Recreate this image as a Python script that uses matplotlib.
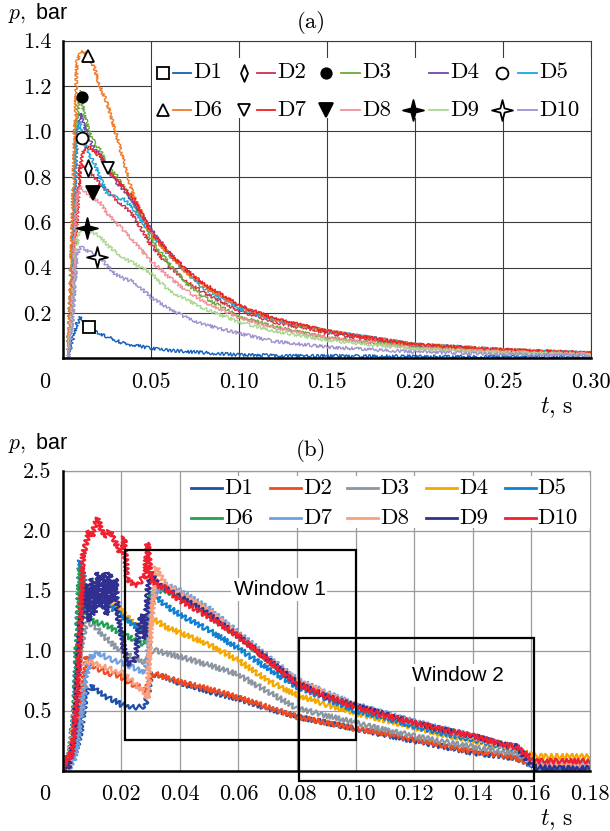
import numpy as np
import matplotlib
matplotlib.use("Agg")
import matplotlib.pyplot as plt
from matplotlib.path import Path
from matplotlib.patches import Rectangle

plt.rcParams["mathtext.fontset"] = "cm"
SERIF = "cmr10"
SANS = "Liberation Sans"

NAMES = ["D1", "D2", "D3", "D4", "D5", "D6", "D7", "D8", "D9", "D10"]

# ---- panel (a): pressure traces ----
T_A = [0, 0.003, 0.005, 0.008, 0.010, 0.012, 0.015, 0.018, 0.021, 0.025, 0.030,
       0.035, 0.040, 0.050, 0.060, 0.070, 0.080, 0.100, 0.120, 0.150, 0.200, 0.250, 0.300]
A_D1 = [0, 0, 0.06, 0.15, 0.18, 0.165, 0.14, 0.12, 0.11, 0.095, 0.08, 0.065, 0.058,
        0.045, 0.035, 0.03, 0.025, 0.015, 0.012, 0.01, 0.008, 0.006, 0.005]
A_D2 = [0, 0, 0.3, 0.7, 0.84, 0.85, 0.82, 0.8, 0.77, 0.74, 0.70, 0.67, 0.63, 0.5,
        0.41, 0.34, 0.29, 0.21, 0.16, 0.11, 0.055, 0.033, 0.02]
A_D3 = [0, 0, 0.4, 1.05, 1.18, 1.08, 1.0, 0.95, 0.92, 0.86, 0.81, 0.75, 0.69, 0.53,
        0.42, 0.33, 0.27, 0.185, 0.14, 0.09, 0.05, 0.03, 0.02]
A_D4 = [0, 0, 0.35, 0.95, 1.08, 1.03, 0.97, 0.92, 0.9, 0.84, 0.78, 0.74, 0.69, 0.57,
        0.47, 0.39, 0.32, 0.23, 0.17, 0.12, 0.06, 0.037, 0.023]
A_D5 = [0, 0, 0.4, 1.0, 1.04, 0.96, 0.9, 0.86, 0.8, 0.73, 0.71, 0.7, 0.66, 0.55,
        0.46, 0.38, 0.31, 0.22, 0.17, 0.12, 0.062, 0.038, 0.023]
A_D6 = [0, 0, 0.5, 1.3, 1.35, 1.35, 1.33, 1.28, 1.2, 1.13, 1.0, 0.86, 0.72, 0.55,
        0.46, 0.38, 0.32, 0.23, 0.17, 0.12, 0.06, 0.037, 0.023]
A_D7 = [0, 0, 0.15, 0.6, 0.85, 0.92, 0.93, 0.91, 0.89, 0.84, 0.79, 0.75, 0.71, 0.56,
        0.47, 0.39, 0.33, 0.235, 0.175, 0.12, 0.06, 0.037, 0.023]
A_D8 = [0, 0, 0.2, 0.7, 0.76, 0.74, 0.72, 0.7, 0.69, 0.64, 0.6, 0.56, 0.52, 0.43,
        0.36, 0.3, 0.25, 0.18, 0.135, 0.09, 0.045, 0.028, 0.017]
A_D9 = [0, 0, 0.15, 0.5, 0.57, 0.565, 0.56, 0.55, 0.54, 0.5, 0.47, 0.44, 0.42, 0.375,
        0.3, 0.26, 0.22, 0.16, 0.12, 0.08, 0.04, 0.025, 0.015]
A_D10 = [0, 0, 0.1, 0.45, 0.49, 0.485, 0.47, 0.46, 0.45, 0.41, 0.37, 0.35, 0.34, 0.27,
         0.22, 0.18, 0.15, 0.11, 0.075, 0.05, 0.028, 0.018, 0.011]
A_COLORS = ["#1460b8", "#d03048", "#6aaa3a", "#6a4aa8", "#1ca8dc",
            "#f07a2a", "#ee2020", "#f0909a", "#a8d890", "#a090d0"]

# marker positions on the curves (D4 has none)
MARK_T = [0.0152, 0.0143, 0.0109, None, 0.0112, 0.0146, 0.0260, 0.0172, 0.0138, 0.0194]
MARK_P = [0.136, 0.84, 1.15, None, 0.97, 1.333, 0.84, 0.728, 0.575, 0.445]

# ---- panel (b) ----
T_B = [0, 0.002, 0.004, 0.006, 0.008, 0.010, 0.012, 0.014, 0.016, 0.018, 0.020,
       0.022, 0.024, 0.026, 0.028, 0.029, 0.030, 0.032, 0.035, 0.040, 0.050, 0.060,
       0.070, 0.080, 0.090, 0.100, 0.110, 0.120, 0.130, 0.140, 0.150, 0.155, 0.160,
       0.162, 0.170, 0.180]
B_D1 = [0, 0.02, 0.12, 0.3, 0.65, 0.7, 0.66, 0.63, 0.6, 0.58, 0.55, 0.54, 0.53, 0.53,
        0.54, 0.62, 0.8, 0.8, 0.78, 0.73, 0.66, 0.6, 0.52, 0.45, 0.4, 0.35, 0.3, 0.25,
        0.2, 0.15, 0.12, 0.1, 0.05, 0.02, 0.02, 0.02]
B_D2 = [0, 0.03, 0.2, 0.5, 0.95, 0.88, 0.85, 0.83, 0.81, 0.8, 0.78, 0.75, 0.72, 0.7,
        0.66, 0.7, 0.8, 0.8, 0.78, 0.74, 0.68, 0.61, 0.53, 0.45, 0.4, 0.35, 0.31, 0.26,
        0.21, 0.16, 0.13, 0.1, 0.06, 0.05, 0.05, 0.05]
B_D3 = [0, 0.03, 0.3, 1.0, 1.25, 1.22, 1.18, 1.12, 1.08, 1.03, 1.0, 0.97, 0.94, 0.92,
        0.9, 0.92, 1.0, 1.0, 0.98, 0.95, 0.88, 0.8, 0.66, 0.52, 0.46, 0.4, 0.34, 0.29,
        0.24, 0.2, 0.16, 0.14, 0.08, 0.06, 0.06, 0.06]
B_D4 = [0, 0.04, 0.4, 1.35, 1.55, 1.5, 1.47, 1.43, 1.4, 1.37, 1.33, 1.28, 1.23, 1.2,
        1.17, 1.18, 1.25, 1.25, 1.2, 1.15, 1.05, 0.92, 0.75, 0.63, 0.55, 0.48, 0.42,
        0.36, 0.3, 0.25, 0.2, 0.18, 0.13, 0.12, 0.12, 0.12]
B_D5 = [0, 0.05, 0.5, 1.75, 1.5, 1.48, 1.45, 1.4, 1.38, 1.33, 1.3, 1.25, 1.22, 1.18,
        1.15, 1.2, 1.4, 1.45, 1.38, 1.3, 1.17, 1.02, 0.85, 0.7, 0.6, 0.5, 0.44, 0.37,
        0.31, 0.26, 0.2, 0.18, 0.05, 0.03, 0.03, 0.03]
B_D6 = [0, 0.05, 0.45, 1.7, 1.3, 1.25, 1.23, 1.22, 1.2, 1.17, 1.15, 1.12, 1.1, 1.07,
        1.05, 1.15, 1.45, 1.5, 1.5, 1.45, 1.3, 1.12, 0.92, 0.74, 0.63, 0.54, 0.47, 0.4,
        0.34, 0.29, 0.22, 0.2, 0.07, 0.06, 0.06, 0.06]
B_D7 = [0, 0.01, 0.1, 0.4, 0.78, 0.96, 0.98, 0.96, 0.93, 0.92, 0.9, 0.88, 0.86, 0.84,
        0.82, 0.9, 1.4, 1.5, 1.55, 1.5, 1.35, 1.15, 0.95, 0.76, 0.65, 0.55, 0.48, 0.41,
        0.35, 0.29, 0.22, 0.2, 0.08, 0.06, 0.05, 0.05]
B_D8 = [0, 0.03, 0.4, 0.9, 0.9, 0.9, 0.88, 0.87, 0.85, 0.83, 0.82, 0.78, 0.74, 0.7,
        0.65, 0.6, 1.2, 1.7, 1.55, 1.48, 1.33, 1.13, 0.93, 0.75, 0.64, 0.54, 0.47, 0.4,
        0.34, 0.28, 0.21, 0.19, 0.06, 0.05, 0.05, 0.05]
T_D9 = [0, 0.002, 0.004, 0.006, 0.008, 0.009, 0.010, 0.011, 0.012, 0.013, 0.014,
        0.015, 0.016, 0.017, 0.018, 0.019, 0.020, 0.021, 0.022, 0.023, 0.024, 0.025,
        0.026, 0.027, 0.028, 0.029, 0.030, 0.032, 0.035, 0.040, 0.050, 0.060, 0.070,
        0.080, 0.090, 0.100, 0.110, 0.120, 0.130, 0.140, 0.150, 0.155, 0.160, 0.162,
        0.170, 0.180]
B_D9 = [0, 0.02, 0.3, 1.2, 1.55, 1.25, 1.6, 1.3, 1.65, 1.35, 1.65, 1.3, 1.65, 1.4,
        1.6, 1.25, 1.15, 1.0, 0.92, 0.88, 0.9, 0.95, 1.2, 1.3, 1.1, 1.5, 1.65, 1.57,
        1.52, 1.45, 1.3, 1.12, 0.93, 0.73, 0.62, 0.54, 0.47, 0.4, 0.34, 0.29, 0.22,
        0.2, 0.05, 0.03, 0.02, 0.02]
T_D10 = [0, 0.002, 0.003, 0.005, 0.007, 0.009, 0.010, 0.011, 0.012, 0.014, 0.016,
         0.018, 0.019, 0.020, 0.021, 0.022, 0.024, 0.026, 0.027, 0.028, 0.029, 0.030,
         0.032, 0.035, 0.040, 0.050, 0.060, 0.070, 0.080, 0.090, 0.100, 0.110, 0.120,
         0.130, 0.140, 0.150, 0.155, 0.160, 0.162, 0.170, 0.180]
B_D10 = [0, 0.15, 0.1, 0.6, 1.8, 2.0, 1.95, 2.05, 2.1, 1.95, 2.0, 1.9, 1.85, 1.8,
         1.95, 1.6, 1.55, 1.55, 1.6, 1.6, 1.9, 1.6, 1.55, 1.52, 1.42, 1.28, 1.12, 0.92,
         0.72, 0.62, 0.53, 0.46, 0.4, 0.34, 0.29, 0.22, 0.2, 0.1, 0.08, 0.08, 0.08]
B_COLORS = ["#1f4fa8", "#f04a20", "#8c96a0", "#f5a800", "#1080d0",
            "#20a050", "#70a0e0", "#f8a080", "#303090", "#f02030"]

# window rectangles (t0, t1, p0, p1) and labels
WIN_T = [(0.0213, 0.1), (0.0805, 0.161)]
WIN_P = [(0.256, 1.84), (-0.083, 1.11)]
WIN_LABELS = ["Window 1", "Window 2"]
WIN_LABEL_T = [0.074, 0.1348]
WIN_LABEL_P = [1.51, 0.79]

W, H = 610, 831
fig = plt.figure(figsize=(W / 100, H / 100), dpi=100)


def star_path(r=0.2):
    verts = [(0, 1), (r, r), (1, 0), (r, -r), (0, -1), (-r, -r), (-1, 0), (-r, r), (0, 1)]
    codes = [Path.MOVETO] + [Path.LINETO] * 7 + [Path.CLOSEPOLY]
    return Path(verts, codes)


DIAMOND = Path([(0, 1), (0.42, 0), (0, -1), (-0.42, 0), (0, 1)],
               [Path.MOVETO, Path.LINETO, Path.LINETO, Path.LINETO, Path.CLOSEPOLY])
STAR = star_path()
# marker style per series (marker, size, facecolor)
MSTYLE = [("s", 8.5, "white"), (DIAMOND, 12, "white"), ("o", 7.5, "black"), None,
          ("o", 8.5, "white"), ("^", 8.5, "white"), ("v", 8.5, "white"),
          ("v", 9.5, "black"), (STAR, 15, "black"), (STAR, 15, "white")]


def px_axes(box, x, y):
    """pixel (x, y) in the picture -> axes fraction for axes box (x0, y0_bottom, x1, y1_top)"""
    x0, yb, x1, yt = box
    return (x - x0) / (x1 - x0), (yb - y) / (yb - yt)


def style_axes(ax, grid_color, grid_lw):
    ax.set_axisbelow(True)
    ax.grid(True, color=grid_color, lw=grid_lw)
    ax.tick_params(length=0)
    ax.tick_params(axis="y", pad=8)
    ax.tick_params(axis="x", pad=10)
    for s in ("left", "bottom"):
        ax.spines[s].set_linewidth(1.8)
        ax.spines[s].set_color("black")
        ax.spines[s].set_zorder(6)
    for s in ("top", "right"):
        ax.spines[s].set_linewidth(grid_lw)
        ax.spines[s].set_color(grid_color)
    ax.annotate("0", xy=(0, 0), xycoords="axes fraction", xytext=(-18, -14),
                textcoords="offset pixels", ha="center", va="top",
                fontfamily=SERIF, fontsize=16)


# ================= panel (a) =================
BOX_A = (62.7, 358.3, 591.0, 40.7)
ax = fig.add_axes([BOX_A[0] / W, 1 - BOX_A[1] / H, (BOX_A[2] - BOX_A[0]) / W,
                   (BOX_A[1] - BOX_A[3]) / H])
a_curves = [A_D1, A_D2, A_D3, A_D4, A_D5, A_D6, A_D7, A_D8, A_D9, A_D10]
for vals, col in zip(a_curves, A_COLORS):
    ln, = ax.plot(T_A, vals, color=col, lw=1.0, zorder=2)
    ln.set_sketch_params(scale=1.6, length=2.5, randomness=3)
for i, ms in enumerate(MSTYLE):
    if ms is None:
        continue
    ax.plot([MARK_T[i]], [MARK_P[i]], ls="none", marker=ms[0], ms=ms[1],
            mfc=ms[2], mec="black", mew=1.3, zorder=5)

ax.set_xlim(0, 0.30)
ax.set_ylim(0, 1.4)
xt = [0.05, 0.10, 0.15, 0.20, 0.25, 0.30]
yt = [0.2, 0.4, 0.6, 0.8, 1.0, 1.2, 1.4]
ax.set_xticks(xt, labels=[f"{v:.2f}" for v in xt], fontfamily=SERIF, fontsize=16)
ax.set_yticks(yt, labels=[f"{v:.1f}" for v in yt], fontfamily=SERIF, fontsize=16)
style_axes(ax, "#3c3c3c", 0.8)

# legend: marker, coloured line, name
x0, y0 = px_axes(BOX_A, 152, 118)
x1, y1 = px_axes(BOX_A, 591, 58)
ax.add_patch(Rectangle((x0, y0), x1 - x0, y1 - y0, transform=ax.transAxes,
                       facecolor="white", edgecolor="none", zorder=3))
leg_mx = [162.7, 244.3, 325.7, 413.0, 502.0]
leg_lx = [172.7, 256.7, 341.0, 429.0, 518.0]
leg_y = [72.7, 110.0]
for i, name in enumerate(NAMES):
    c, r = i % 5, i // 5
    mx, my = px_axes(BOX_A, leg_mx[c], leg_y[r])
    la, _ = px_axes(BOX_A, leg_lx[c], leg_y[r])
    lb, _ = px_axes(BOX_A, leg_lx[c] + 18.5, leg_y[r])
    tx, _ = px_axes(BOX_A, leg_lx[c] + 21, leg_y[r])
    if MSTYLE[i] is not None:
        m = MSTYLE[i]
        ax.plot([mx], [my], transform=ax.transAxes, ls="none", marker=m[0], ms=m[1],
                mfc=m[2], mec="black", mew=1.3, zorder=4, clip_on=False)
    ax.plot([la, lb], [my, my], transform=ax.transAxes, color=A_COLORS[i], lw=1.3,
            zorder=4)
    ax.text(tx, my, name, transform=ax.transAxes, ha="left", va="center",
            fontfamily=SERIF, fontsize=16.5, zorder=4)

# ================= panel (b) =================
BOX_B = (62.7, 770.7, 590.0, 470.7)
bx = fig.add_axes([BOX_B[0] / W, 1 - BOX_B[1] / H, (BOX_B[2] - BOX_B[0]) / W,
                   (BOX_B[1] - BOX_B[3]) / H])
b_series = [(T_B, B_D1), (T_B, B_D2), (T_B, B_D3), (T_B, B_D4), (T_B, B_D5),
            (T_B, B_D6), (T_B, B_D7), (T_B, B_D8), (T_D9, B_D9), (T_D10, B_D10)]
for (tt, vals), col in zip(b_series, B_COLORS):
    ln, = bx.plot(tt, vals, color=col, lw=1.6, zorder=2)
    ln.set_sketch_params(scale=2.5, length=5, randomness=2)

for (ta, tb), (pa, pb) in zip(WIN_T, WIN_P):
    bx.add_patch(Rectangle((ta, pa), tb - ta, pb - pa, fill=False, edgecolor="black",
                           lw=1.6, zorder=5, clip_on=False))
for lab, tx_, py_ in zip(WIN_LABELS, WIN_LABEL_T, WIN_LABEL_P):
    bx.text(tx_, py_, lab, ha="center", va="center", fontfamily=SANS, fontsize=15,
            zorder=5, bbox=dict(facecolor="white", edgecolor="none", pad=1.5))

bx.set_xlim(0, 0.18)
bx.set_ylim(0, 2.5)
xtb = [0.02, 0.04, 0.06, 0.08, 0.10, 0.12, 0.14, 0.16, 0.18]
ytb = [0.5, 1.0, 1.5, 2.0, 2.5]
bx.set_xticks(xtb, labels=[f"{v:.2f}" for v in xtb], fontfamily=SERIF, fontsize=16)
bx.set_yticks(ytb, labels=[f"{v:.1f}" for v in ytb], fontfamily=SERIF, fontsize=16)
style_axes(bx, "#9a9a9a", 0.9)

x0, y0 = px_axes(BOX_B, 183, 528)
x1, y1 = px_axes(BOX_B, 590, 476)
bx.add_patch(Rectangle((x0, y0), x1 - x0, y1 - y0, transform=bx.transAxes,
                       facecolor="white", edgecolor="none", zorder=3))
legb_lx = [190.8, 269.8, 347.3, 426.3, 504.5]
legb_y = [488.3, 518.3]
for i, name in enumerate(NAMES):
    c, r = i % 5, i // 5
    la, ly = px_axes(BOX_B, legb_lx[c], legb_y[r])
    lb, _ = px_axes(BOX_B, legb_lx[c] + 31, legb_y[r])
    tx, _ = px_axes(BOX_B, legb_lx[c] + 33, legb_y[r])
    bx.plot([la, lb], [ly, ly], transform=bx.transAxes, color=B_COLORS[i], lw=2.0,
            zorder=4)
    bx.text(tx, ly, name, transform=bx.transAxes, ha="left", va="center",
            fontfamily=SERIF, fontsize=16.5, zorder=4)

# ---- free labels ----
for ytop, tag, yl in ((13, "(a)", 23), (443, "(b)", 450)):
    fig.text(8 / W, 1 - ytop / H, r"$p,$ bar", ha="left", va="center",
             fontfamily=SANS, fontsize=15.5)
    fig.text(311 / W, 1 - yl / H, tag, ha="center", va="center",
             fontfamily=SERIF, fontsize=16.5)
for yc in (408, 820):
    fig.text(557 / W, 1 - yc / H, r"$t,\,\mathrm{s}$", ha="center", va="center",
             fontsize=17)

fig.savefig("out.png", dpi=100)
